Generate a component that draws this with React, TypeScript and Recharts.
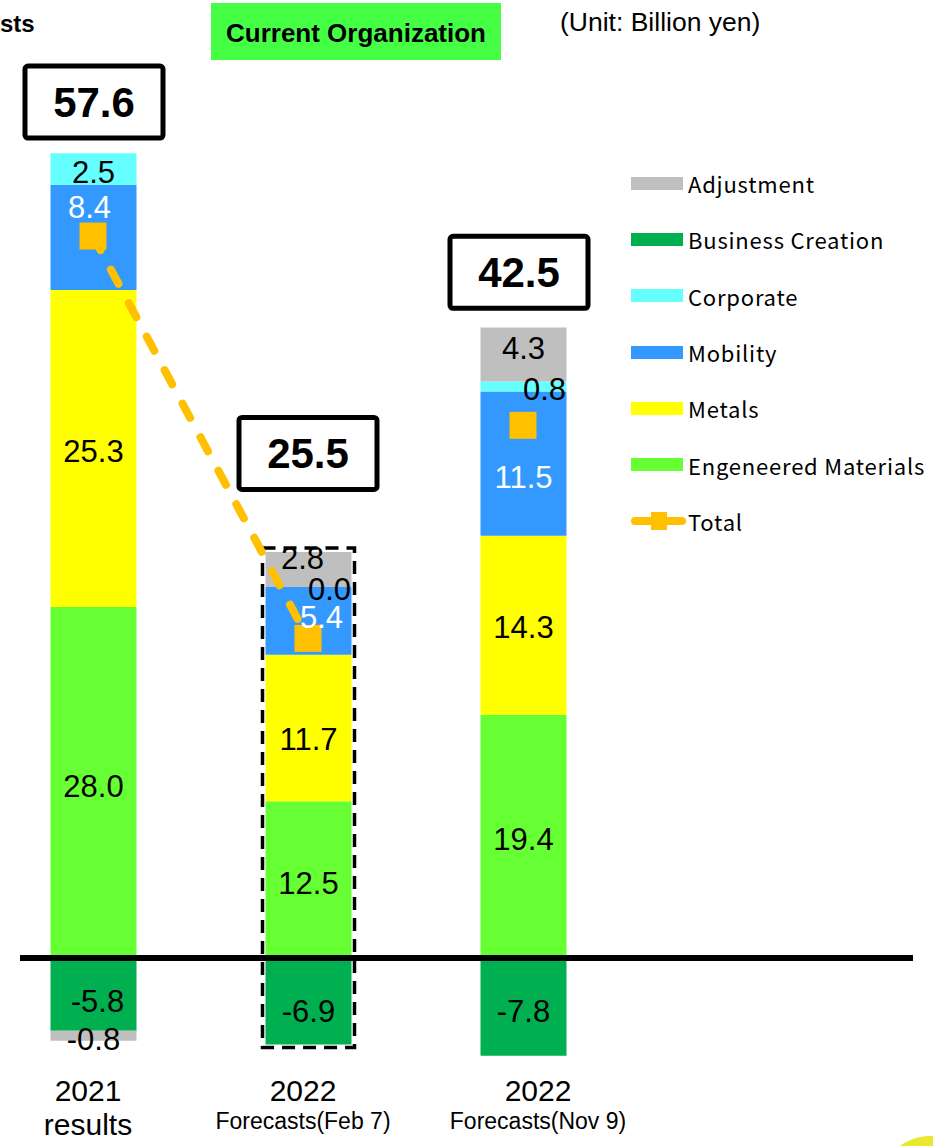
import React from "react";
import {
  ComposedChart,
  Bar,
  Line,
  XAxis,
  YAxis,
  ReferenceLine,
  LabelList,
  Legend,
} from "recharts";

const CATEGORIES = ["2021 results", "2022 Feb 7", "2022 Nov 9"];
const YEARS = ["2021", "2022", "2022"];
const SUBTITLES = ["results", "Forecasts(Feb 7)", "Forecasts(Nov 9)"];

const BUSINESS_CREATION = [-5.8, -6.9, -7.8];
const ENGINEERED = [28.0, 12.5, 19.4];
const METALS = [25.3, 11.7, 14.3];
const MOBILITY = [8.4, 5.4, 11.5];
const CORPORATE = [2.5, 0.0, 0.8];
const ADJUSTMENT = [-0.8, 2.8, 4.3];
const TOTAL = [57.6, 25.5, 42.5];
// dashed connector only runs between the first two totals
const LINKED = [true, true, false];
// the Feb 7 forecast gets a dashed frame round the whole stack
const FRAMED = [false, true, false];

const FONT = "'Liberation Sans', Arial, sans-serif";
const ORANGE = "#ffc000";

// stack order matters: with stackOffset="sign" the first negative sits next to zero
const SERIES = [
  { key: "business", name: "Business Creation", values: BUSINESS_CREATION, color: "#00b050", text: "#000" },
  { key: "engineered", name: "Engeneered Materials", values: ENGINEERED, color: "#66ff33", text: "#000" },
  { key: "metals", name: "Metals", values: METALS, color: "#ffff00", text: "#000" },
  { key: "mobility", name: "Mobility", values: MOBILITY, color: "#3399ff", text: "#fff" },
  { key: "corporate", name: "Corporate", values: CORPORATE, color: "#66ffff", text: "#000" },
  { key: "adjustment", name: "Adjustment", values: ADJUSTMENT, color: "#bfbfbf", text: "#000" },
];

const LEGEND_ORDER = ["adjustment", "business", "corporate", "mobility", "metals", "engineered"];

// hand-nudged label spots, like the source deck (cap-centre offset from segment centre)
const LABEL_DY: Record<string, number[]> = {
  business: [7, 10, 4],
  engineered: [3, 3, 2],
  metals: [2, 11, 2],
  mobility: [-30, -4, 13],
  corporate: [3, 2, 5],
  adjustment: [3, -12, -7],
};
const LABEL_DX: Record<string, number[]> = {
  business: [4, 0, 0],
  engineered: [0, 0, 0],
  metals: [0, 0, 0],
  mobility: [-4, 13, 0],
  corporate: [0, 21, 0],
  adjustment: [0, -6, 0],
};

// total call-out boxes, offset from the total marker
const BOX_DX = [1, 0, -4];
const BOX_DY = [-134, -185, -153];
const TICK_DX = [-5, -5, 15];

const data = CATEGORIES.map((cat, i) => {
  const row: Record<string, unknown> = { cat };
  let lo = 0;
  let hi = 0;
  SERIES.forEach((s) => {
    row[s.key] = s.values[i];
    if (s.values[i] < 0) lo += s.values[i];
    else hi += s.values[i];
  });
  row.total = TOTAL[i];
  row.link = LINKED[i] ? TOTAL[i] : null;
  row.frame = FRAMED[i] ? [lo, hi] : null;
  return row;
});

function labelText(cx: number, cy: number, v: number, color: string) {
  return (
    <text x={cx} y={cy + 0.358 * 31} textAnchor="middle" fontSize={31} fontFamily={FONT} fill={color}>
      {v.toFixed(1)}
    </text>
  );
}

function boxOf(p: any) {
  return p.viewBox && p.viewBox.width != null ? p.viewBox : p;
}

function segLabel(key: string, textColor: string) {
  return (p: any) => {
    const { x, y, width, height } = boxOf(p);
    const i = p.index ?? 0;
    const v = Number(p.value);
    if (x == null || Number.isNaN(v) || v === 0) return null;
    const cx = x + width / 2 + (LABEL_DX[key]?.[i] ?? 0);
    const cy = y + height / 2 + (LABEL_DY[key]?.[i] ?? 0);
    return labelText(cx, cy, v, textColor);
  };
}

// a zero-height corporate slice gets no rect of its own, so its "0.0" hangs off the mobility top
function zeroCorporateLabel(p: any) {
  const { x, y, width } = boxOf(p);
  const i = p.index ?? 0;
  const v = Number(p.value);
  if (x == null || v !== 0) return null;
  return labelText(x + width / 2 + LABEL_DX.corporate[i], y + LABEL_DY.corporate[i], v, "#000");
}

function TotalBox(p: any) {
  const x = p.x ?? p.viewBox?.x;
  const y = p.y ?? p.viewBox?.y;
  const i = p.index ?? 0;
  if (x == null || y == null) return null;
  const cx = x + BOX_DX[i];
  const cy = y + BOX_DY[i];
  return (
    <g>
      <rect x={cx - 69} y={cy - 36} width={138} height={72} rx={3} fill="#fff" stroke="#000" strokeWidth={5} />
      <text x={cx} y={cy + 15} textAnchor="middle" fontSize={42} fontWeight="bold" fontFamily={FONT} fill="#000">
        {Number(p.value).toFixed(1)}
      </text>
    </g>
  );
}

function SquareDot(p: any) {
  if (p.cx == null || p.cy == null || p.value == null) return <g key={p.index} />;
  return <rect key={p.index} x={p.cx - 13.5} y={p.cy - 13.5} width={27} height={27} fill={ORANGE} />;
}

function FrameShape(p: any) {
  if (p.x == null || !p.height) return null;
  const top = Math.min(p.y, p.y + p.height);
  const h = Math.abs(p.height);
  return (
    <rect
      x={p.x - 3}
      y={top - 4}
      width={p.width + 6}
      height={h + 7}
      fill="none"
      stroke="#000"
      strokeWidth={3.5}
      strokeDasharray="13 8"
    />
  );
}

function YearTick(p: any) {
  const i = p.index ?? p.payload?.index ?? CATEGORIES.indexOf(p.payload?.value);
  const x = p.x + TICK_DX[i];
  const y = p.y;
  const first = i === 0;
  return (
    <g>
      <text x={x} y={y + 18} textAnchor="middle" fontSize={30} fontFamily={FONT} fill="#000">
        {YEARS[i]}
      </text>
      <text x={x} y={y + (first ? 52 : 46)} textAnchor="middle" fontSize={first ? 30 : 23} fontFamily={FONT} fill="#000">
        {SUBTITLES[i]}
      </text>
    </g>
  );
}

function LegendBox() {
  const rows = LEGEND_ORDER.map((k) => SERIES.find((s) => s.key === k)!);
  const rowStyle: React.CSSProperties = { height: 56.3, display: "flex", alignItems: "center" };
  const textStyle: React.CSSProperties = {
    fontFamily: "'Noto Sans CJK JP', 'DejaVu Sans', sans-serif",
    fontSize: 22,
    letterSpacing: 0.8,
    color: "#000",
    marginLeft: 5,
    whiteSpace: "nowrap",
  };
  return (
    <div>
      {rows.map((s) => (
        <div key={s.key} style={rowStyle}>
          <div style={{ width: 52, height: 13, background: s.color }} />
          <span style={textStyle}>{s.name}</span>
        </div>
      ))}
      <div style={rowStyle}>
        <svg width={55} height={20}>
          <line x1={4} y1={10} x2={51} y2={10} stroke={ORANGE} strokeWidth={8} strokeLinecap="round" />
          <rect x={20} y={1} width={16} height={18} fill={ORANGE} />
        </svg>
        <span style={{ ...textStyle, marginLeft: 2 }}>Total</span>
      </div>
    </div>
  );
}

export default function App() {
  return (
    <div style={{ position: "absolute", left: 0, top: 0, width: 933, height: 1146, overflow: "hidden", background: "#fff" }}>
      <svg width={933} height={80} style={{ position: "absolute", left: 0, top: 0 }}>
        <text x={0} y={32} fontSize={24} fontWeight="bold" fontFamily={FONT} fill="#000">
          sts
        </text>
        <rect x={211} y={3} width={290} height={57} fill="#44ff44" />
        <text x={356} y={42} textAnchor="middle" fontSize={26} fontWeight="bold" fontFamily={FONT} fill="#000">
          Current Organization
        </text>
        <text x={560} y={31} fontSize={26.5} fontFamily={FONT} fill="#000">
          (Unit: Billion yen)
        </text>
      </svg>
      <div style={{ position: "absolute", left: 0, top: 0 }}>
        <ComposedChart
          width={933}
          height={1146}
          data={data}
          stackOffset="sign"
          margin={{ top: 18, right: 20, bottom: 2.67, left: 20 }}
        >
          <XAxis
            dataKey="cat"
            height={60}
            axisLine={false}
            tickLine={false}
            tickSize={0}
            tickMargin={0}
            interval={0}
            padding={{ left: -34.5, right: 282.5 }}
            tick={<YearTick />}
          />
          <XAxis xAxisId="frame" dataKey="cat" hide padding={{ left: -34.5, right: 282.5 }} />
          <YAxis hide domain={[-10, 75]} allowDataOverflow />
          {SERIES.map((s) => (
            <Bar
              key={s.key}
              dataKey={s.key}
              name={s.name}
              stackId="a"
              fill={s.color}
              barSize={86}
              isAnimationActive={false}
            >
              <LabelList dataKey={s.key} content={segLabel(s.key, s.text)} />
              {s.key === "mobility" && <LabelList dataKey="corporate" content={zeroCorporateLabel} />}
            </Bar>
          ))}
          <Bar
            xAxisId="frame"
            dataKey="frame"
            barSize={86}
            isAnimationActive={false}
            shape={FrameShape}
            legendType="none"
          />
          <ReferenceLine y={0} stroke="#000" strokeWidth={6} />
          <Line
            dataKey="link"
            stroke={ORANGE}
            strokeWidth={8}
            strokeDasharray="16 22"
            strokeLinecap="round"
            dot={false}
            activeDot={false}
            isAnimationActive={false}
            legendType="none"
          />
          <Line
            dataKey="total"
            name="Total"
            stroke="none"
            dot={SquareDot}
            activeDot={false}
            isAnimationActive={false}
          >
            <LabelList dataKey="total" content={TotalBox} />
          </Line>
          <Legend
            layout="vertical"
            align="center"
            verticalAlign="middle"
            wrapperStyle={{ left: 631, top: 155, width: 302, height: 400 }}
            content={() => <LegendBox />}
          />
        </ComposedChart>
      </div>
      <div
        style={{
          position: "absolute",
          left: 880,
          top: 1136,
          width: 100,
          height: 100,
          borderRadius: "50%",
          background: "#e8e82e",
        }}
      />
    </div>
  );
}
